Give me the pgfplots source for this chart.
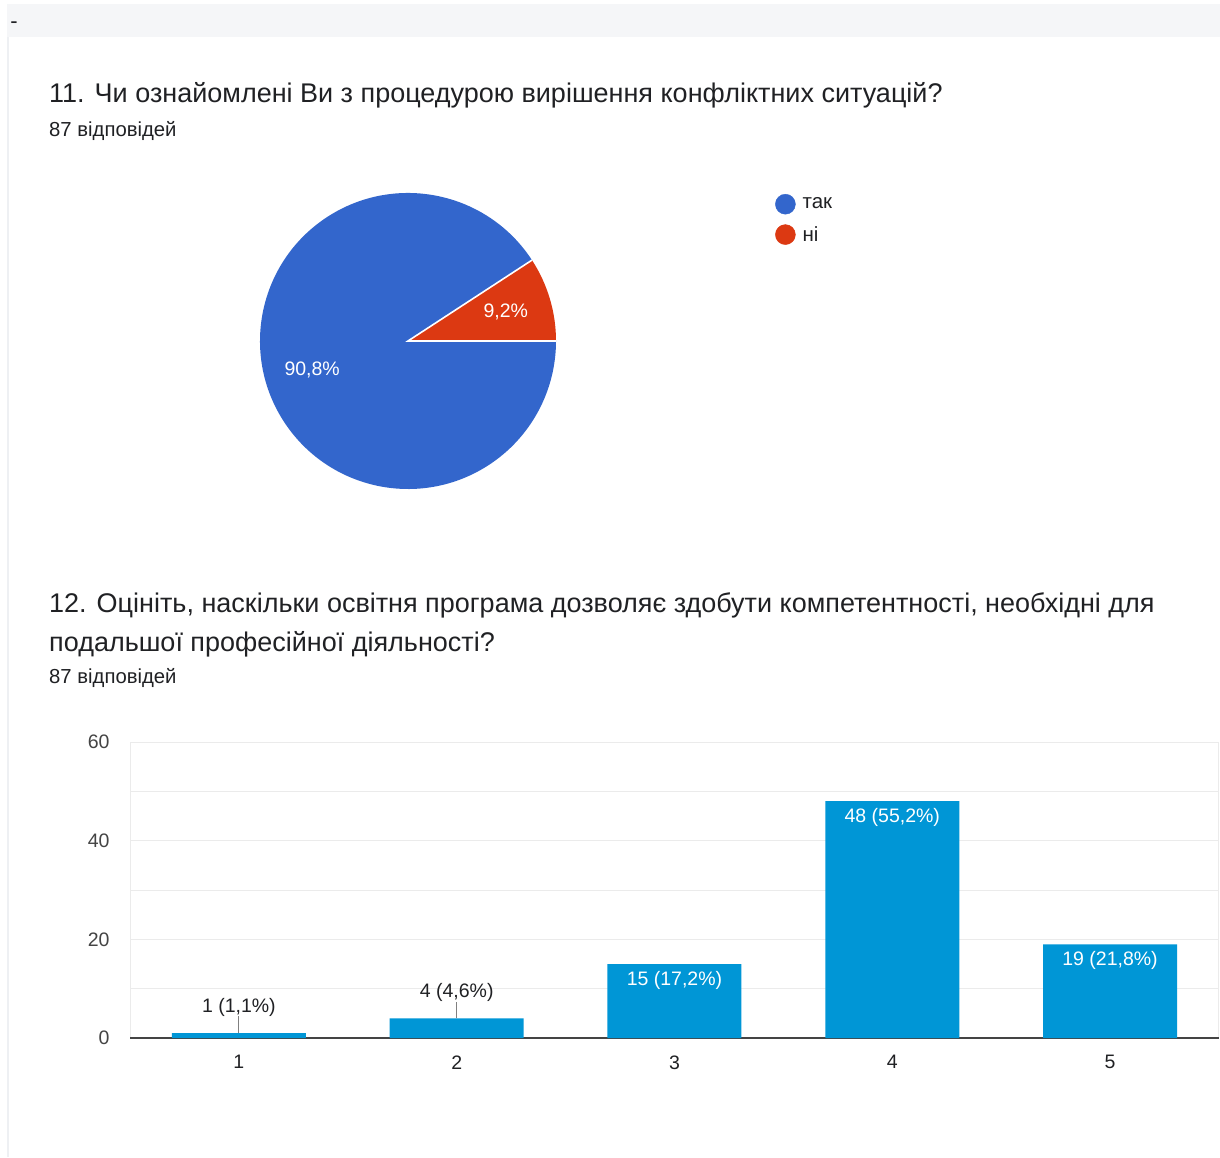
\documentclass[border=0pt]{standalone}
\usepackage{fontspec}
\setmainfont{Liberation Sans}
\usepackage{pgfplots}
\pgfplotsset{compat=1.18}
\usepackage{pgfplotstable}

\definecolor{txt}{HTML}{202124}
\definecolor{stripgray}{HTML}{F5F6F8}
\definecolor{bordergray}{HTML}{EEF0F3}
\definecolor{pieblue}{HTML}{3366CC}
\definecolor{piered}{HTML}{DC3912}
\definecolor{barblue}{HTML}{0096D6}
\definecolor{gridgray}{HTML}{EBEBEB}
\definecolor{ticklbl}{HTML}{444444}

% pie shares, %
\def\pctTak{90.8}
\def\pctNi{9.2}

% bars: small ones get a label above with a leader line
\pgfplotstableread{
x y err lab
1 1 3.4 {1 (1,1\%)}
2 4 3.2 {4 (4,6\%)}
}\smallbars
\pgfplotstableread{
x y lab
3 15 {15 (17,2\%)}
4 48 {48 (55,2\%)}
5 19 {19 (21,8\%)}
}\bigbars

\begin{document}
\begin{tikzpicture}[x=1pt,y=1pt]
\path[use as bounding box, fill=white] (0,0) rectangle (1220,1157);
\fill[stripgray] (7,1120) rectangle (1220,1153);
\fill[bordergray] (7,0) rectangle (9,1120);
\node[anchor=center, text=txt, font=\fontsize{22}{24}\selectfont] at (14,1132) {-};

\node[anchor=base west, inner sep=0pt, text=txt, font=\fontsize{27}{30}\selectfont]
  at (49,1054) {11. Чи ознайомлені Ви з процедурою вирішення конфліктних ситуацій?};
\node[anchor=base west, inner sep=0pt, text=txt, font=\fontsize{20.3}{22}\selectfont]
  at (49,1020) {87 відповідей};

\node[anchor=base west, inner sep=0pt, text=txt, font=\fontsize{27}{30}\selectfont]
  at (49,544) {12. Оцініть, наскільки освітня програма дозволяє здобути компетентності, необхідні для};
\node[anchor=base west, inner sep=0pt, text=txt, font=\fontsize{27}{30}\selectfont]
  at (49,505) {подальшої професійної діяльності?};
\node[anchor=base west, inner sep=0pt, text=txt, font=\fontsize{20.3}{22}\selectfont]
  at (49,473) {87 відповідей};

% ---- pie (1 axis unit = 1pt) ----
\begin{axis}[
  at={(408pt,816pt)}, anchor=center,
  scale only axis, width=400pt, height=400pt,
  xmin=-200, xmax=200, ymin=-200, ymax=200,
  enlargelimits=false, hide axis, clip=false,
  legend style={at={(axis description cs:1.4175,0.868)}, anchor=north west,
    draw=none, fill=none, inner sep=0pt, row sep=10pt,
    font=\fontsize{20.5}{24}\selectfont, text=txt,
    /tikz/every odd column/.append style={column sep=5pt}},
  legend cell align=left,
  legend image code/.code={\fill[#1] (10pt,0pt) circle (10pt);},
]
\pgfmathsetmacro{\angNi}{3.6*\pctNi}
\fill[piered] (axis cs:0,0) -- (axis cs:148,0)
  arc[start angle=0, end angle=\angNi, radius=148pt] -- cycle;
\fill[pieblue] (axis cs:0,0) -- (axis cs:{148*cos(\angNi)},{148*sin(\angNi)})
  arc[start angle=\angNi, end angle=360, radius=148pt] -- cycle;
\draw[white, line width=1.6pt] (axis cs:148,0) -- (axis cs:0,0)
  -- (axis cs:{148*cos(\angNi)},{148*sin(\angNi)});
\pgfmathsetmacro{\midNi}{1.8*\pctNi}
\pgfmathsetmacro{\midTak}{3.6*\pctNi+1.8*\pctTak}
\node[text=white, font=\fontsize{19.5}{22}\selectfont]
  at (axis cs:{102*cos(\midNi)},{102*sin(\midNi)}) {9,2\%};
\node[text=white, font=\fontsize{19.5}{22}\selectfont]
  at (axis cs:{100*cos(\midTak)},{100*sin(\midTak)}) {90,8\%};
\addlegendimage{pieblue}
\addlegendentry{так}
\addlegendimage{piered}
\addlegendentry{ні}
\end{axis}

% ---- bar chart ----
\begin{axis}[
  at={(130pt,119pt)}, anchor=south west,
  scale only axis, width=1089pt, height=296pt,
  xmin=0.5, xmax=5.5, ymin=0, ymax=60,
  xtick={1,2,3,4,5},
  ytick={20,40,60}, minor ytick={10,30,50},
  extra y ticks={0},
  extra y tick style={major grid style={draw=ticklbl, line width=1.3pt}},
  ymajorgrids, yminorgrids,
  major grid style={draw=gridgray, line width=1pt},
  minor grid style={draw=gridgray, line width=1pt},
  axis line style={draw=gridgray, line width=1pt},
  major tick length=0pt, minor tick length=0pt,
  /pgf/number format/assume math mode=true,
  tick label style={font=\fontsize{19.5}{22}\selectfont},
  yticklabel style={text=ticklbl, xshift=-17pt},
  xticklabel style={text=txt, yshift=-14pt},
  clip=false,
]
\addplot[ybar, bar width=134pt, bar shift=0pt, fill=barblue, draw=none,
  nodes near coords, point meta=explicit symbolic,
  every node near coord/.append style={anchor=base, yshift=21pt,
    text=txt, font=\fontsize{19.5}{22}\selectfont},
  error bars/.cd, y dir=plus, y explicit, error mark=none,
  error bar style={draw=gray, line width=1pt}]
  table[x=x, y=y, y error=err, meta=lab] {\smallbars};
\addplot[ybar, bar width=134pt, bar shift=0pt, fill=barblue, draw=none,
  nodes near coords, point meta=explicit symbolic,
  every node near coord/.append style={anchor=base, yshift=-21pt,
    text=white, font=\fontsize{19.5}{22}\selectfont}]
  table[x=x, y=y, meta=lab] {\bigbars};
\end{axis}
\end{tikzpicture}
\end{document}
